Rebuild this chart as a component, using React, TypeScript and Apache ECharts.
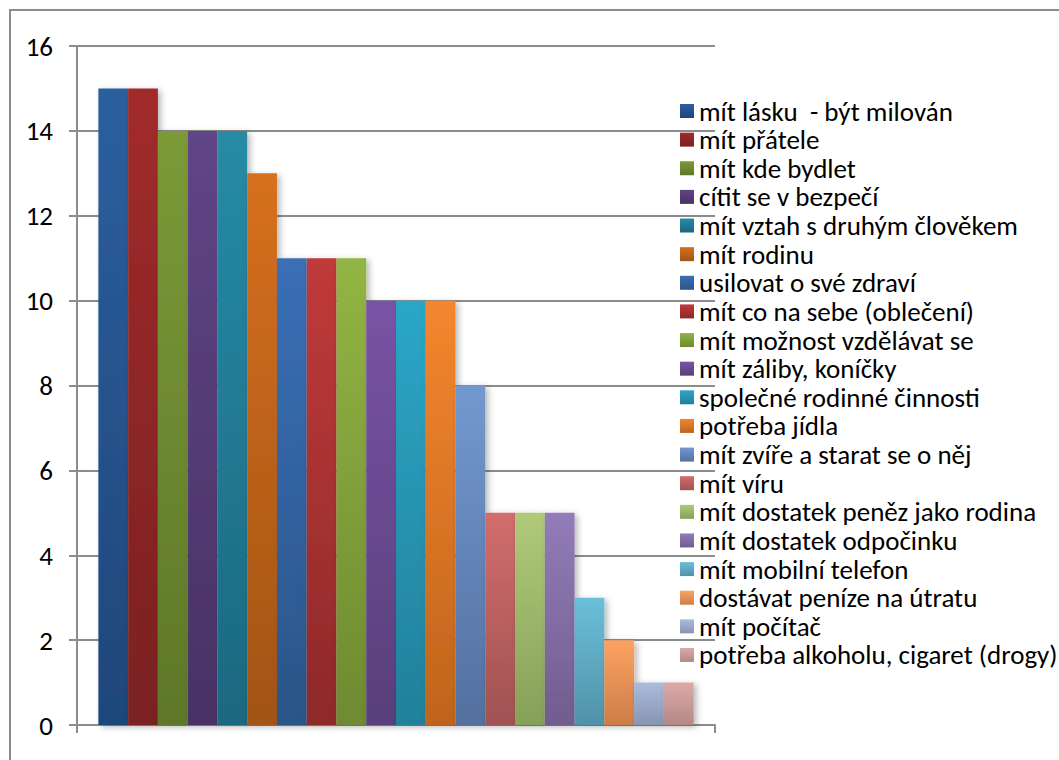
import React, { useEffect, useRef } from "react";
import * as echarts from "echarts";

const seriesNames = [
  "mít lásku  - být milován",
  "mít přátele",
  "mít kde bydlet",
  "cítit se v bezpečí",
  "mít vztah s druhým člověkem",
  "mít rodinu",
  "usilovat o své zdraví",
  "mít co na sebe (oblečení)",
  "mít možnost vzdělávat se",
  "mít záliby, koníčky",
  "společné rodinné činnosti",
  "potřeba jídla",
  "mít zvíře a starat se o něj",
  "mít víru",
  "mít dostatek peněz jako rodina",
  "mít dostatek odpočinku",
  "mít mobilní telefon",
  "dostávat peníze na útratu",
  "mít počítač",
  "potřeba alkoholu, cigaret (drogy)",
];

const seriesValues = [15, 15, 14, 14, 14, 13, 11, 11, 11, 10, 10, 10, 8, 5, 5, 5, 3, 2, 1, 1];

const topColors = [
  "#2C5F9E", "#A12B2B", "#7C9A38", "#604587", "#268BA6", "#D6701D",
  "#3A6FB6", "#C03A3A", "#92B544", "#7953A5", "#2CA6C7", "#F4862E",
  "#7398D0", "#D26D6D", "#B0CA7A", "#937CB8", "#6BBFD9", "#FDA263",
  "#AABCDD", "#DCA9A9",
];
const bottomColors = [
  "#1F467A", "#7A2121", "#5E7729", "#483264", "#1C6880", "#A25416",
  "#2A5588", "#8E2929", "#6E8A30", "#583F7A", "#22809A", "#BF641C",
  "#53709F", "#A05252", "#86A058", "#705D8E", "#5092A8", "#CC7E48",
  "#8895B0", "#B38888",
];

const categories = [""];
const yTicks = { min: 0, max: 16, interval: 2 };

const FONT = "Carlito, Lato, 'Open Sans', sans-serif";
const GRAY = "#8C8C8C";

export default function App() {
  const ref = useRef<HTMLDivElement>(null);
  useEffect(() => {
    if (!ref.current) return;
    const chart = echarts.init(ref.current, undefined, { renderer: "svg" });
    const series = seriesNames.map((name, i) => ({
      name,
      type: "bar",
      data: [seriesValues[i]],
      barGap: "0%",
      barCategoryGap: "6.7%",
      itemStyle: {
        color: new echarts.graphic.LinearGradient(0, 0, 0, 1, [
          { offset: 0, color: topColors[i] },
          { offset: 1, color: bottomColors[i] },
        ]),
        shadowColor: "rgba(0,0,0,0.28)",
        shadowBlur: 6,
        shadowOffsetX: 3,
        shadowOffsetY: 2,
      },
    }));
    chart.setOption({
      animation: false,
      backgroundColor: "#ffffff",
      textStyle: { fontFamily: FONT },
      graphic: [
        {
          type: "rect",
          shape: { x: 10, y: 10, width: 1200, height: 900 },
          style: { fill: "none", stroke: GRAY, lineWidth: 2 },
          silent: true,
          z: -1,
        },
      ],
      grid: { left: 77, right: 344, top: 46, bottom: 35, containLabel: false },
      legend: {
        orient: "vertical",
        left: 680,
        top: 97.5,
        itemWidth: 14,
        itemHeight: 14,
        itemGap: 1.63,
        itemTextGap: 7,
        icon: "rect",
        textStyle: { fontFamily: FONT, fontSize: 27, color: "#000", padding: [0, 0, 0, 0] },
        padding: 0,
        selectedMode: false,
      },
      xAxis: {
        type: "category",
        data: categories,
        axisLine: { show: true, lineStyle: { color: GRAY, width: 2 } },
        axisTick: { show: true, length: 8, lineStyle: { color: GRAY, width: 2 } },
        axisLabel: { show: false },
        splitLine: { show: false },
      },
      yAxis: {
        type: "value",
        min: yTicks.min,
        max: yTicks.max,
        interval: yTicks.interval,
        axisLine: { show: true, lineStyle: { color: GRAY, width: 2 } },
        axisTick: { show: true, length: 8, lineStyle: { color: GRAY, width: 2 } },
        axisLabel: { fontFamily: FONT, fontSize: 27, color: "#000", margin: 24 },
        splitLine: { show: true, lineStyle: { color: GRAY, width: 2 } },
      },
      series,
    });
    return () => chart.dispose();
  }, []);
  return (
    <div
      ref={ref}
      style={{ position: "fixed", left: 0, top: 0, width: 1059, height: 760, background: "#fff" }}
    />
  );
}
